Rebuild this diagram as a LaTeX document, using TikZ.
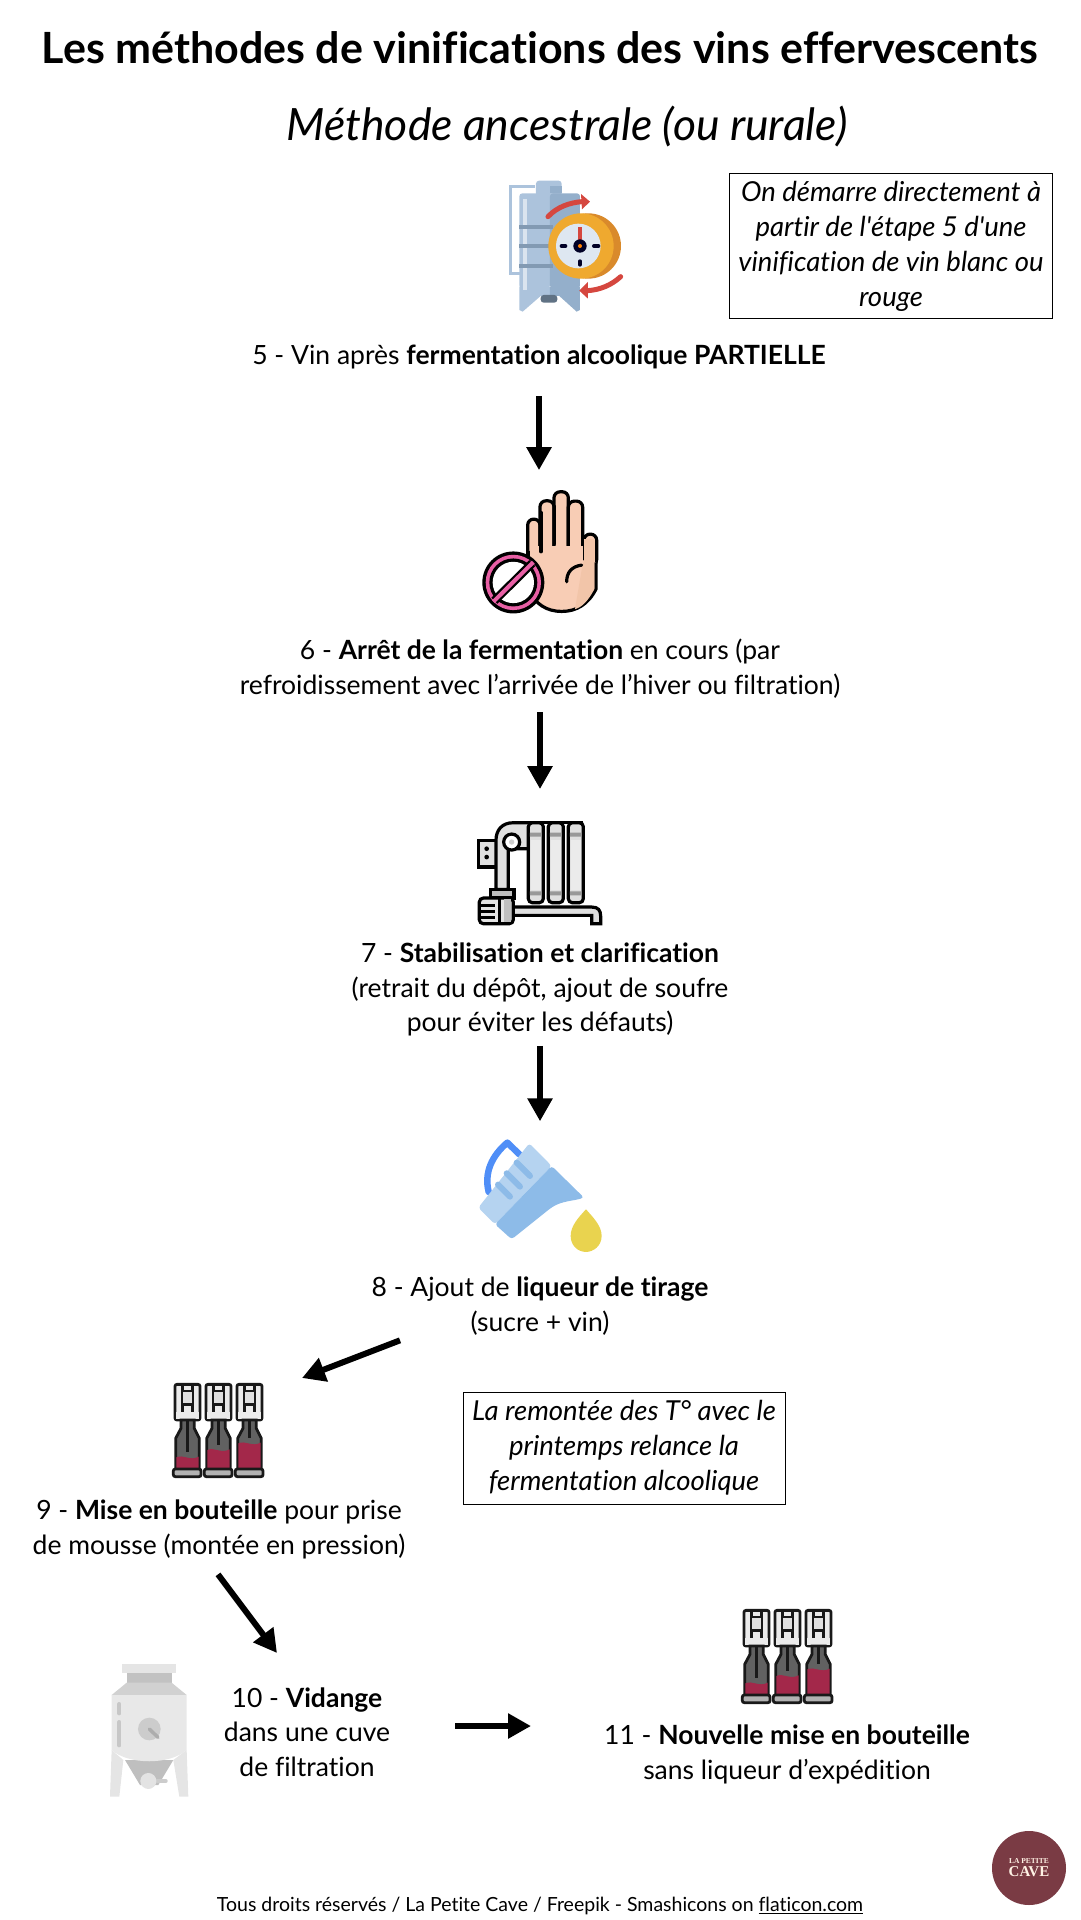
\documentclass[tikz,border=0pt]{standalone}
\usepackage{fontspec}
\setmainfont{Lato}[Ligatures=NoCommon]
\newfontfamily\logofont{Liberation Serif}
\usetikzlibrary{arrows.meta, positioning, calc}
\definecolor{tankblue}{HTML}{ACC3DC}
\definecolor{tankdark}{HTML}{94AFCB}
\definecolor{clockred}{HTML}{D5473F}
\definecolor{clockfront}{HTML}{EFA92F}
\definecolor{clockback}{HTML}{D98A2B}
\definecolor{skin}{HTML}{F8CDB5}
\definecolor{stoppink}{HTML}{E85FA5}
\definecolor{jugblue}{HTML}{4F8EF7}
\definecolor{jugpale}{HTML}{B5D3F0}
\definecolor{jugdeep}{HTML}{8DBBE8}
\definecolor{dropyellow}{HTML}{E9D34F}
\definecolor{wine}{HTML}{A3284A}
\definecolor{logored}{HTML}{7A3B44}
\tikzset{
  tankclock/.pic={
    \draw[tankblue, line width=2.6pt] (195,80) -- (122,80) -- (122,340) -- (150,340);
    \fill[tankblue, rounded corners=3pt] (198,62) rectangle (275,110);
    \fill[tankdark] (240,78) rectangle (275,100);
    \fill[tankblue, rounded corners=3pt] (148,100) rectangle (240,385);
    \fill[tankdark, rounded corners=3pt] (240,100) rectangle (330,385);
    \fill[tankblue] (148,380) -- (240,380) -- (240,408) -- (212,408) -- (158,455) -- (148,450) -- cycle;
    \fill[tankdark] (240,380) -- (330,380) -- (330,450) -- (320,455) -- (268,408) -- (240,408) -- cycle;
    \fill[black!35!tankdark, rounded corners=3pt] (212,405) rectangle (262,428);
    \fill[white!55!tankblue] (160,118) rectangle (170,390);
    \foreach \ypos in {200,258,318} \fill[black!12!tankdark] (148,\ypos-6) rectangle (250,\ypos+6);
    \fill[clockback] (355,258) circle (98);
    \fill[clockfront] (333,258) circle (98);
    \fill[tankblue!40] (325,258) circle (67);
    \draw[clockred, line width=4pt] (330,202) -- (330,240);
    \fill[black!85!blue] (330,258) circle (20);
    \fill[orange] (330,258) circle (6);
    \draw[black!85!blue, line width=4pt, line cap=round] (275,258) -- (286,258) (372,258) -- (385,258) (330,304) -- (330,314);
    \draw[clockred, line width=5pt, line cap=round] (234,170) .. controls (262,140) and (300,128) .. (335,125);
    \fill[clockred] (333,102) -- (360,125) -- (336,148) -- cycle;
    \draw[clockred, line width=5pt, line cap=round] (452,350) .. controls (425,375) and (390,390) .. (352,392);
    \fill[clockred] (354,366) -- (328,392) -- (354,416) -- cycle;
  },
  stophand/.pic={
    \foreach \xa/\xb/\ytop in {203/240/120, 240/282/65, 282/325/38, 325/368/66, 372/410/165}
      \draw[black, line width=3.2pt, fill=skin, rounded corners=6pt] (\xa,260) rectangle (\xb,\ytop);
    \fill[skin!90!brown] (372,180) rectangle (405,330);
    \draw[black, line width=3.2pt, fill=skin] (205,215) -- (205,330) .. controls (225,375) and (260,397) .. (305,397) .. controls (350,397) and (385,375) .. (408,330) -- (408,250);
    \fill[skin] (209,200) rectangle (368,330);
    \fill[skin!90!brown] (368,255) -- (403,180) -- (403,330) .. controls (385,365) and (365,385) .. (345,390) -- cycle;
    \draw[black, line width=3.2pt, line cap=round] (243,100) -- (243,218) (284,80) -- (284,195) (326,80) -- (326,195) (368,80) -- (368,190);
    \draw[black, line width=3.2pt, line cap=round] (320,308) .. controls (320,280) and (335,262) .. (365,258);
    \fill[black] (160,310) circle (93);
    \fill[stoppink] (160,310) circle (83);
    \fill[black] (160,310) circle (72);
    \fill[white] (160,310) circle (62);
    \draw[black, line width=8.5pt] (103,365) -- (217,252);
    \draw[stoppink, line width=4pt] (100,368) -- (220,249);
  },
  radiator/.pic={
    \draw[black, line width=3.2pt, fill=black!12] (55,85) rectangle (112,165);
    \fill[black] (80,110) circle (7) (80,135) circle (7);
    \draw[black, line width=3.2pt, fill=black!12] (108,232) -- (108,85) .. controls (108,55) and (125,32) .. (160,32) -- (210,32) -- (210,110) -- (145,110) -- (145,232) -- cycle;
    \foreach \xa in {205,265,325} {
      \draw[black, line width=3.2pt, fill=black!12, rounded corners=4pt] (\xa,32) rectangle ++(45,240);
      \fill[black!8] (\xa+8,85) rectangle ++(29,150);
      \fill[black!40] (\xa+5,62) rectangle ++(35,12) (\xa+5,238) rectangle ++(35,12);
    }
    \draw[black, line width=3.2pt] (205,32) -- (370,32);
    \draw[black, line width=3.2pt, fill=white] (155,90) circle (24);
    \fill[black!20] (155,90) circle (8);
    \draw[black, line width=3.2pt, fill=black!25] (92,232) rectangle (162,258);
    \draw[black, line width=3.2pt, fill=black!12] (160,285) -- (395,285) .. controls (415,285) and (422,295) .. (422,312) -- (422,335) -- (395,335) -- (395,310) -- (160,310) -- cycle;
    \draw[black, line width=3.2pt, fill=black!10, rounded corners=4pt] (58,258) rectangle (160,335);
    \draw[black, line width=3.2pt] (62,280) -- (105,280) (62,298) -- (105,298) (62,316) -- (105,316) (118,258) -- (118,335);
    \fill[black!25] (132,262) rectangle (152,330);
  },
  measurejug/.pic={
    \draw[jugblue, line width=6.5pt, line cap=round, line join=round] (86,188) .. controls (72,130) and (95,80) .. (142,40) -- (178,75);
    \fill[jugpale, rounded corners=3pt] (55,235) -- (208,42) -- (275,110) -- (105,285) -- cycle;
    \fill[jugdeep, rounded corners=3pt] (275,110) -- (372,205) .. controls (340,215) and (305,215) .. (270,238) -- (155,330) -- (105,285) -- cycle;
    \draw[jugdeep, line width=6pt, line cap=round] (170,100) -- (210,140) (140,132) -- (180,172) (114,166) -- (150,202);
    \fill[dropyellow] (378,240) .. controls (355,265) and (332,290) .. (332,320) .. controls (332,350) and (355,368) .. (378,368) .. controls (400,368) and (425,350) .. (425,320) .. controls (425,290) and (400,265) .. (378,240);
  },
  threebottles/.pic={
    \foreach \xoff/\level in {0/262, 93/240, 186/220} {
      \begin{scope}[shift={(\xoff,0)}, line width=2.8pt]
        \draw[black!90, fill=black!8, rounded corners=2pt] (45,43) rectangle (120,150);
        \draw[black!90] (68,43) -- (68,125) (97,43) -- (97,125) (68,63) -- (97,63) (68,103) -- (97,103);
        \fill[black!12] (70,66) rectangle (95,100);
        \fill[black!8] (48,125) rectangle (117,148);
        \draw[black!90, fill=black!62] (63,150) -- (63,175) -- (47,205) -- (47,296) -- (118,296) -- (118,205) -- (103,175) -- (103,150) -- cycle;
        \draw[black!90] (83,150) -- (83,\level-15);
        \fill[wine] (49,\level) .. controls (70,\level-10) and (90,\level+12) .. (116,\level-2) -- (116,294) -- (49,294) -- cycle;
        \draw[black!90, fill=black!30, rounded corners=2pt] (40,297) rectangle (123,320);
      \end{scope}
    }
  },
  greytank/.pic={
    \fill[black!10] (65,300) -- (100,330) -- (88,440) -- (60,440) -- cycle;
    \fill[black!10] (290,300) -- (250,330) -- (268,440) -- (295,440) -- cycle;
    \fill[black!25] (105,330) -- (250,330) -- (205,405) -- (150,405) -- cycle;
    \fill[black!10] (97,42) rectangle (258,70);
    \fill[black!24] (110,70) rectangle (245,98);
    \fill[black!18] (110,98) -- (245,98) -- (290,135) -- (65,135) -- cycle;
    \fill[black!9] (65,135) -- (290,135) -- (290,300) .. controls (240,345) and (115,345) .. (65,300) -- cycle;
    \draw[black!22, line width=4pt, line cap=round] (88,162) -- (88,190) (88,216) -- (88,286);
    \fill[black!20] (178,237) circle (34);
    \draw[black!32, line width=3.5pt, line cap=round] (178,237) -- (204,262);
    \draw[black!20, line width=3.5pt, line cap=round] (195,393) -- (228,393);
    \fill[black!11] (175,393) circle (24);
  }
}
\begin{document}
\begin{tikzpicture}[
    x=1pt, y=-1pt,
    node distance=10pt,
    >={Triangle[length=23pt,width=24pt]},
    base/.style={align=center, inner sep=0pt, outer sep=0pt, font=\fontsize{26.5}{34.5}\selectfont},
    stepnode/.style={base},
    notebox/.style={base, draw=black, line width=0.8pt, font=\fontsize{27.5}{35}\selectfont\itshape},
    iconbox/.style args={#1 by #2}{inner sep=0pt, outer sep=0pt, minimum width=#1, minimum height=#2},
    arrow/.style={->, line width=6pt, black}
  ]
    \useasboundingbox (0,0) rectangle (1080,1920);
    \node[base, font=\fontsize{43}{50}\selectfont\bfseries] (title) at (540,48) {Les méthodes de vinifications des vins effervescents};
    \node[base, font=\fontsize{44.5}{50}\selectfont\itshape] (subtitle) at (567,127) {Méthode ancestrale (ou rurale)};
    \node[notebox, minimum width=323pt, minimum height=145pt] (note5) at (891,246)
    {On démarre directement à\\
     partir de l\textquotesingle étape 5 d\textquotesingle une\\
     vinification de vin blanc ou\\
     rouge};

    \node[iconbox=200pt by 170pt] (tankicon) at (570,245) {};
    \pic[scale=0.3333] at (tankicon.north west) {tankclock};
    \node[stepnode] (step5) at (539,357) {5 - Vin après \textbf{fermentation alcoolique PARTIELLE}};

    \node[iconbox=160pt by 150pt, below=110pt of step5.south, xshift=1pt] (handicon) {};
    \pic[scale=0.3333] at (handicon.north west) {stophand};
    \node[stepnode, below=10pt of handicon] (step6)
    {6 - \textbf{Arrêt de la fermentation} en cours (par\\
     refroidissement avec l’arrivée de l’hiver ou filtration)};

    \node[iconbox=160pt by 120pt, below=114pt of step6] (radicon) {};
    \pic[scale=0.3333] at (radicon.north west) {radiator};
    \node[stepnode, below=11pt of radicon] (step7)
    {7 - \textbf{Stabilisation et clarification}\\
     (retrait du dépôt, ajout de soufre\\
     pour éviter les défauts)};

    \node[iconbox=160pt by 125pt, below=93pt of step7] (jugicon) {};
    \pic[scale=0.3333] at (jugicon.north west) {measurejug};
    \node[stepnode, below=23pt of jugicon] (step8)
    {8 - Ajout de \textbf{liqueur de tirage}\\
     (sucre + vin)};

    \node[iconbox=110pt by 110pt] (bottlesa) at (215,1425) {};
    \pic[scale=0.3333] at (bottlesa.north west) {threebottles};
    \node[stepnode, below=20pt of bottlesa, xshift=4pt] (step9)
    {9 - \textbf{Mise en bouteille} pour prise\\
     de mousse (montée en pression)};
    \node[notebox, minimum width=322pt, minimum height=112pt] (note9) at (624,1448)
    {La remontée des T° avec le\\
     printemps relance la\\
     fermentation alcoolique};

    \node[stepnode] (step10) at (307,1732)
    {10 - \textbf{Vidange}\\
     dans une cuve\\
     de filtration};
    \node[iconbox=120pt by 160pt] (vaticon) at (150,1730) {};
    \pic[scale=0.3333] at (vaticon.north west) {greytank};

    \node[iconbox=110pt by 110pt] (bottlesb) at (784,1651) {};
    \pic[scale=0.3333] at (bottlesb.north west) {threebottles};
    \node[stepnode, below=19pt of bottlesb, xshift=3pt] (step11)
    {11 - \textbf{Nouvelle mise en bouteille}\\
     sans liqueur d’expédition};

    \node[circle, fill=logored, text=orange!10, minimum size=74pt, inner sep=0pt, align=center, font=\logofont\bfseries\fontsize{15}{15}\selectfont] (logo) at (1029,1868)
    {{\fontsize{7.5}{8}\selectfont LA PETITE}\\[-2pt]CAVE};
    \node[base, font=\fontsize{19.5}{24}\selectfont] (footer) at (540,1906) {Tous droits réservés / La Petite Cave / Freepik - Smashicons on \underline{flaticon.com}};

    \draw[arrow, shorten <=27pt, shorten >=9pt] (step5) -- (step5 |- handicon.north);
    \draw[arrow, shorten <=14pt, shorten >=23pt] (step6) -- (radicon);
    \draw[arrow, shorten <=9.5pt, shorten >=8pt] (step7) -- (jugicon);
    \draw[arrow] ($(step8)+(-140,34)$) -- ($(bottlesa)+(87,-47)$);
    \draw[arrow] ($(step9)+(-1,45)$) -- ($(step10)+(-30,-79)$);
    \draw[arrow] ($(step10)+(148,-6)$) -- ($(step10)+(224,-6)$);
  \end{tikzpicture}
\end{document}
